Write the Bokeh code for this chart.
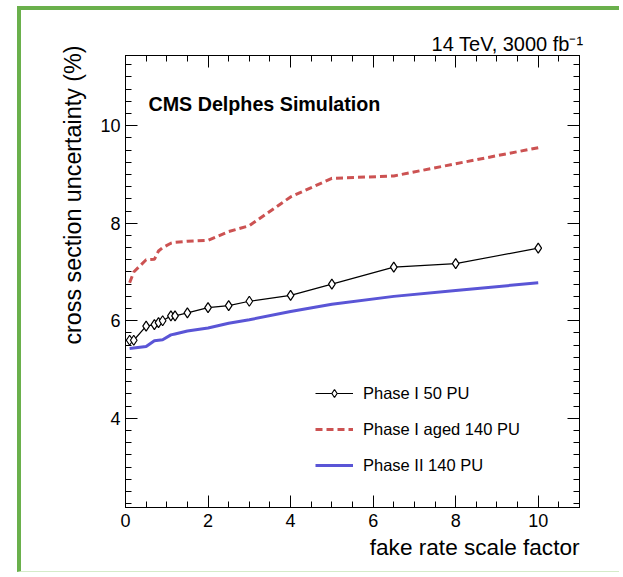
from bokeh.embed import file_html
from bokeh.models import (Legend, LegendItem, LinearAxis, Range1d,
                          SingleIntervalTicker, Title, Label)
from bokeh.plotting import figure
from bokeh.resources import INLINE

# fake rate scale factor (x) and cross section uncertainty in % (y)
scale_factor = [0.1, 0.2, 0.5, 0.7, 0.8, 0.9, 1.1, 1.2, 1.5, 2.0, 2.5, 3.0, 4.0, 5.0, 6.5, 8.0, 10.0]
phase1_50pu = [5.60, 5.60, 5.89, 5.92, 5.96, 6.00, 6.10, 6.10, 6.16, 6.27, 6.31, 6.40, 6.52, 6.75, 7.10, 7.17, 7.49]
phase1_aged_140pu = [6.78, 7.00, 7.25, 7.26, 7.43, 7.50, 7.59, 7.61, 7.63, 7.65, 7.83, 7.95, 8.54, 8.92, 8.97, 9.22, 9.55]
phase2_140pu = [5.43, 5.44, 5.47, 5.59, 5.60, 5.61, 5.71, 5.73, 5.79, 5.85, 5.95, 6.02, 6.19, 6.34, 6.50, 6.62, 6.78]

series_labels = ["Phase I 50 PU", "Phase I aged 140 PU", "Phase II 140 PU"]

FONT = "Liberation Sans"
GREEN = "#6ab04c"

p = figure(width=602, height=566,
           x_range=Range1d(0, 11), y_range=Range1d(2.17, 11.44),
           output_backend="svg", toolbar_location=None,
           min_border_left=104, min_border_right=44,
           min_border_top=45, min_border_bottom=69)
p.margin = (6, 0, 0, 17)
p.styles = {"border-left": f"4px solid {GREEN}",
            "border-top": f"4px solid {GREEN}",
            "border-bottom": "1px solid #d5ebc9"}
p.background_fill_color = "white"
p.border_fill_color = "white"
p.outline_line_color = "black"
p.outline_line_width = 1
p.xgrid.visible = False
p.ygrid.visible = False


def style_axis(ax, ticker, show_labels, standoff):
    ax.ticker = ticker
    ax.axis_line_color = "black"
    ax.major_tick_line_color = "black"
    ax.minor_tick_line_color = "black"
    ax.major_tick_in = 12
    ax.major_tick_out = 0
    ax.minor_tick_in = 6
    ax.minor_tick_out = 0
    ax.major_label_text_font = FONT
    ax.major_label_text_font_size = "18px"
    ax.major_label_text_color = "black"
    ax.major_label_standoff = standoff
    if not show_labels:
        ax.major_label_text_alpha = 0
        ax.major_label_text_font_size = "1px"


def xticker():
    return SingleIntervalTicker(interval=2, num_minor_ticks=4)


def yticker():
    return SingleIntervalTicker(interval=2, num_minor_ticks=8)


style_axis(p.xaxis[0], xticker(), True, 6)
style_axis(p.yaxis[0], yticker(), True, 5)
top_axis = LinearAxis()
style_axis(top_axis, xticker(), False, 0)
p.add_layout(top_axis, "above")
right_axis = LinearAxis()
style_axis(right_axis, yticker(), False, 0)
p.add_layout(right_axis, "right")

# curves
l_red = p.line(scale_factor, phase1_aged_140pu, line_color="#cc5252",
               line_width=3, line_dash="7 4")
l_blue = p.line(scale_factor, phase2_140pu, line_color="#5a55d6", line_width=3)
l_black = p.line(scale_factor, phase1_50pu, line_color="black", line_width=1.2)
s_black = p.scatter(scale_factor, phase1_50pu, marker="diamond", size=10,
                    fill_color="white", line_color="black", line_width=1.2)

legend = Legend(items=[
    LegendItem(label=series_labels[0], renderers=[l_black, s_black]),
    LegendItem(label=series_labels[1], renderers=[l_red]),
    LegendItem(label=series_labels[2], renderers=[l_blue]),
], location=(190, 32))
legend.border_line_color = None
legend.background_fill_alpha = 0
legend.padding = 0
legend.margin = 0
legend.spacing = 16
legend.glyph_width = 38
legend.glyph_height = 20
legend.label_height = 20
legend.label_standoff = 10
legend.label_text_font = FONT
legend.label_text_font_size = "16.5px"
legend.label_text_color = "black"
p.add_layout(legend)

# texts inside the frame
p.add_layout(Label(x=0.557, y=10.45, text="CMS Delphes Simulation",
                   text_font=FONT, text_font_size="19.7px", text_font_style="bold",
                   text_color="black", text_baseline="alphabetic"))

# texts around the frame
p.add_layout(Title(text="14 TeV, 3000 fb\u207b\u00b9", align="right", offset=-4,
                   standoff=2, text_font=FONT, text_font_size="20px",
                   text_font_style="normal", text_color="black"), "above")
p.add_layout(Title(text="fake rate scale factor", align="right", standoff=10,
                   vertical_align="top",
                   text_font=FONT, text_font_size="22.6px",
                   text_font_style="normal", text_color="black"), "below")
p.add_layout(Title(text="cross section uncertainty (%)", align="right", offset=-10,
                   standoff=24, text_font=FONT, text_font_size="23.3px",
                   text_font_style="normal", text_color="black"), "left")

open("out.html", "w").write(file_html(p, INLINE))
